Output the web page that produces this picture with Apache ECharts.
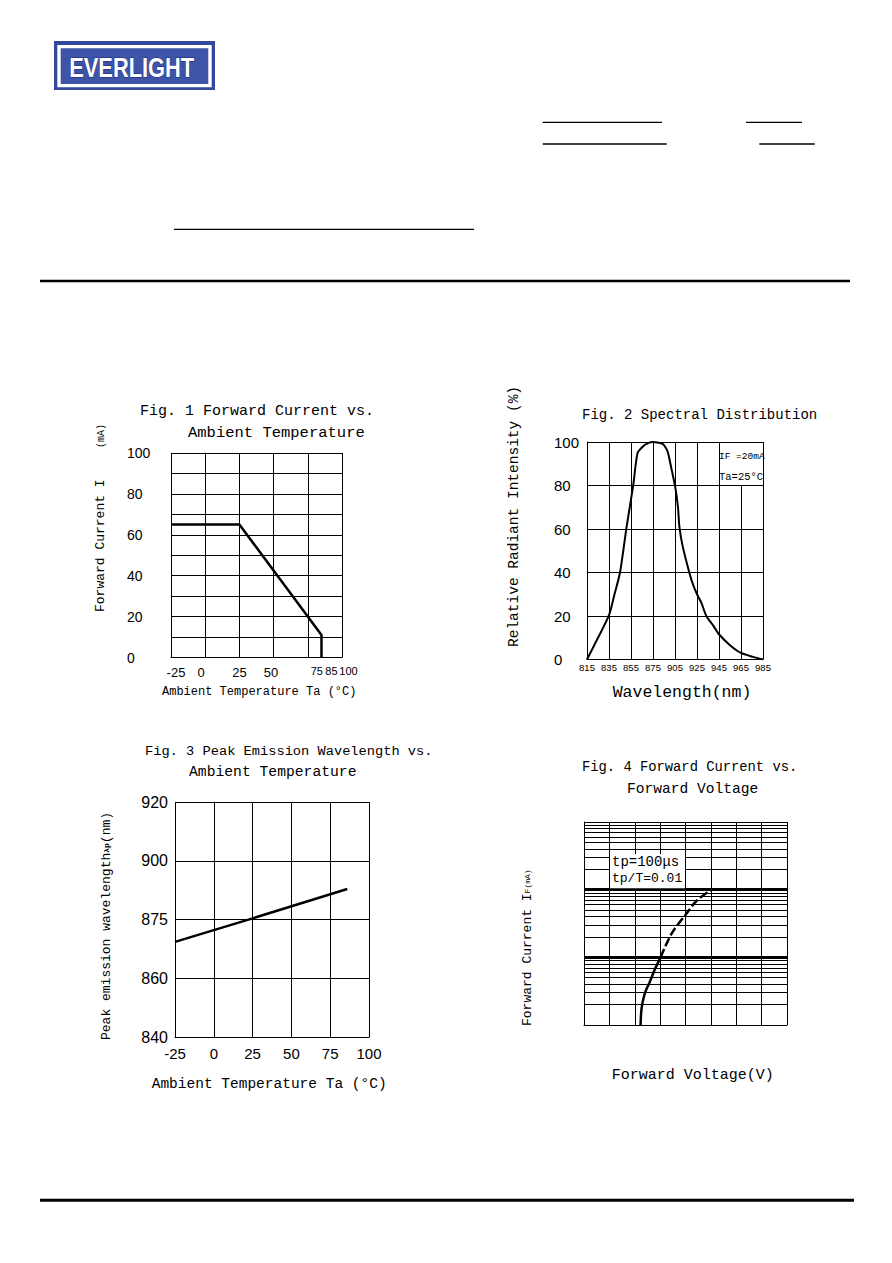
<!DOCTYPE html>
<html><head><meta charset="utf-8">
<script src="https://cdn.jsdelivr.net/npm/echarts@6/dist/echarts.min.js"></script>
<style>html,body{margin:0;padding:0;background:#fff}#c{width:892px;height:1263px}</style>
</head><body><div id="c"></div>
<script>
// ---------- Fig. 1 Forward Current vs. Ambient Temperature ----------
const fig1XLabels = [-25, 0, 25, 50, 75, 100];
const fig1XExtraLabels = [85];
const fig1Curve = [[-25, 65], [25, 65], [85, 11], [85, 0]];

// ---------- Fig. 2 Spectral Distribution ----------
const fig2XTicks = [815, 835, 855, 875, 905, 925, 945, 965, 985];
const fig2Wave = [815, 825, 835, 840, 845, 851, 857, 861, 866, 870.5, 875, 881, 888.6, 893, 895.5, 900, 905.3, 907.7, 909, 912, 918, 921, 925, 929, 933.5, 939.5, 945, 955, 965, 976, 985];
const fig2Int  = [0,   10,  20.4, 30, 40,  61,  80,  95,  98,  99.5,  100, 99.8, 99, 97, 95, 88, 79, 70, 61, 52, 40, 35, 30, 26, 20, 15.8, 11.6, 6.6, 3, 1.2, 0];

// ---------- Fig. 3 Peak Emission Wavelength vs. Ambient Temperature ----------
const fig3YTicks = [840, 860, 875, 900, 920];
const fig3Temp = [-25, 25, 86];
const fig3Peak = [869.3, 875.5, 888];

// ---------- Fig. 4 Forward Current vs. Forward Voltage ----------
const fig4SolidV = [1.115, 1.135, 1.2, 1.3, 1.395, 1.51];
const fig4SolidI = [1, 1.77, 2.95, 4.4, 6.6, 10];
const fig4DashV = [1.51, 1.625, 1.755, 2.005, 2.215, 2.505];
const fig4DashI = [10, 15.8, 24.3, 43, 68, 100];

// piecewise position of a value on an axis with unevenly labelled, evenly spaced ticks
function tickPos(v, ticks) {
  for (let i = 0; i < ticks.length - 1; i++) {
    if (v <= ticks[i + 1] || i === ticks.length - 2) {
      return i + (v - ticks[i]) / (ticks[i + 1] - ticks[i]);
    }
  }
  return 0;
}

const MONO = '"Liberation Mono", "DejaVu Sans Mono", monospace';
const SANS = '"Liberation Sans", Arial, sans-serif';
const BLK = '#000';

function T(x, y, text, size, o) {
  o = o || {};
  const st = {
    text: text, fontFamily: o.family || MONO, fontSize: size, fill: BLK,
    textAlign: o.align || 'left', align: o.align || 'left',
    textVerticalAlign: 'middle', verticalAlign: 'middle'
  };
  if (o.rich) st.rich = o.rich;
  return { type: 'text', x: x, y: y, rotation: o.rot || 0, z: 100, silent: true, style: st };
}
function L(x1, y1, x2, y2, w) {
  return { type: 'line', z: 100, silent: true, shape: { x1, y1, x2, y2 }, style: { stroke: BLK, lineWidth: w } };
}
function R(x, y, w, h, fill, z) {
  return { type: 'rect', z: z || 100, silent: true, shape: { x, y, width: w, height: h }, style: { fill: fill } };
}

const axLine = { show: true, lineStyle: { color: BLK, width: 1 } };
const split = { show: true, lineStyle: { color: BLK, width: 1, type: 'solid' } };
function valAxis(extra) {
  return Object.assign({
    type: 'value', axisLine: axLine, axisTick: { show: false }, splitLine: split,
    minorTick: { show: false }, minorSplitLine: { show: false }
  }, extra);
}

// Fig. 1 tick labels are nudged sideways in the original (crowded 75/85/100)
const fig1Nudge = { '-25': 5, '0': -4, '25': 0, '50': -2.5, '75': 9, '85': 10, '100': 6.5 };
const fig1Rich = {};
Object.keys(fig1Nudge).forEach(function (k, i) {
  const n = fig1Nudge[k];
  const crowded = (k === '75' || k === '85' || k === '100');
  fig1Rich['n' + i] = { fontFamily: SANS, fontSize: crowded ? 11 : 13, color: BLK,
    padding: n >= 0 ? [0, 0, 0, 2 * n] : [0, -2 * n, 0, 0] };
});
const fig1Keys = Object.keys(fig1Nudge);
function fig1Fmt(v) { const i = fig1Keys.indexOf(String(v)); return i < 0 ? String(v) : '{n' + i + '|' + v + '}'; }

const minorLines = [];
[1, 10, 100].forEach(function (d) { for (let k = 2; k <= 9; k++) minorLines.push({ yAxis: k * d }); });

const chart = echarts.init(document.getElementById('c'), null, { renderer: 'svg' });
const option = {
  animation: false,
  backgroundColor: '#fff',
  grid: [
    { left: 171, top: 453, width: 171, height: 204.5, outerBoundsMode: 'none' },
    { left: 587, top: 442, width: 176, height: 217.5, outerBoundsMode: 'none' },
    { left: 175, top: 802, width: 194, height: 235, outerBoundsMode: 'none' },
    { left: 584, top: 822, width: 203, height: 203, outerBoundsMode: 'none' }
  ],
  xAxis: [
    valAxis({ gridIndex: 0, min: -25, max: 100, interval: 25,
      axisLabel: { customValues: fig1XLabels, fontFamily: SANS, fontSize: 13, color: BLK, margin: 8,
        showMinLabel: true, showMaxLabel: true, hideOverlap: false, formatter: fig1Fmt, rich: fig1Rich } }),
    valAxis({ gridIndex: 1, min: 0, max: 8, interval: 1,
      axisLabel: { formatter: function (v) { return String(fig2XTicks[Math.round(v)]); },
        showMinLabel: true, showMaxLabel: true, hideOverlap: false,
        fontFamily: SANS, fontSize: 9.5, color: BLK, margin: 3 } }),
    valAxis({ gridIndex: 2, min: -25, max: 100, interval: 25,
      axisLabel: { fontFamily: SANS, fontSize: 15, color: BLK, margin: 9, showMinLabel: true, showMaxLabel: true } }),
    valAxis({ gridIndex: 3, min: 0, max: 4, interval: 0.5, axisLabel: { show: false } }),
    // extra label-only axis for the 85 °C mark on Fig. 1
    { type: 'value', gridIndex: 0, min: -25, max: 100, interval: 25, position: 'bottom',
      axisLine: { show: false }, axisTick: { show: false }, splitLine: { show: false },
      axisLabel: { customValues: fig1XExtraLabels, fontFamily: SANS, fontSize: 13, color: BLK, margin: 8,
        showMinLabel: true, showMaxLabel: true, hideOverlap: false, formatter: fig1Fmt, rich: fig1Rich } }
  ],
  yAxis: [
    valAxis({ gridIndex: 0, min: 0, max: 100, interval: 10,
      axisLabel: { formatter: function (v) { return v % 20 === 0 ? String(v) : ''; },
        showMinLabel: true, showMaxLabel: true,
        fontFamily: SANS, fontSize: 14, color: BLK, margin: 44, align: 'left', padding: [7, 0, 0, 0] } }),
    valAxis({ gridIndex: 1, min: 0, max: 100, interval: 20,
      axisLabel: { fontFamily: SANS, fontSize: 15, color: BLK, margin: 33, align: 'left', showMinLabel: true, showMaxLabel: true } }),
    valAxis({ gridIndex: 2, min: 0, max: 4, interval: 1,
      axisLabel: { formatter: function (v) { return String(fig3YTicks[Math.round(v)]); },
        showMinLabel: true, showMaxLabel: true,
        fontFamily: SANS, fontSize: 16, color: BLK, margin: 7 } }),
    { type: 'log', logBase: 10, gridIndex: 3, min: 1, max: 1000,
      axisLine: axLine, axisTick: { show: false }, axisLabel: { show: false },
      splitLine: split, minorTick: { show: false }, minorSplitLine: { show: false } }
  ],
  series: [
    { type: 'line', xAxisIndex: 0, yAxisIndex: 0, data: fig1Curve, symbol: 'none',
      lineStyle: { color: BLK, width: 2.5 }, silent: true },
    { type: 'line', xAxisIndex: 1, yAxisIndex: 1, symbol: 'none', smooth: 0.25,
      data: fig2Wave.map(function (w, i) { return [tickPos(w, fig2XTicks), fig2Int[i]]; }),
      lineStyle: { color: BLK, width: 2 }, silent: true },
    { type: 'line', xAxisIndex: 2, yAxisIndex: 2, symbol: 'none',
      data: fig3Temp.map(function (t, i) { return [t, tickPos(fig3Peak[i], fig3YTicks)]; }),
      lineStyle: { color: BLK, width: 2.5 }, silent: true },
    { type: 'line', xAxisIndex: 3, yAxisIndex: 3, symbol: 'none', smooth: 0.3,
      data: fig4SolidV.map(function (v, i) { return [v, fig4SolidI[i]]; }),
      lineStyle: { color: BLK, width: 2.5 }, silent: true, z: 3,
      markLine: { silent: true, symbol: ['none', 'none'], label: { show: false },
        lineStyle: { color: BLK, width: 1, type: 'solid' }, emphasis: { disabled: true },
        data: minorLines } },
    { type: 'line', xAxisIndex: 3, yAxisIndex: 3, symbol: 'none', smooth: 0.3,
      data: fig4DashV.map(function (v, i) { return [v, fig4DashI[i]]; }),
      lineStyle: { color: BLK, width: 2.5, type: [9, 3] }, silent: true, z: 3,
      markLine: { silent: true, symbol: ['none', 'none'], label: { show: false },
        lineStyle: { color: BLK, width: 3, type: 'solid' }, emphasis: { disabled: true },
        data: [{ yAxis: 10 }, { yAxis: 100 }] } }
  ],
  graphic: [
    // logo
    R(54, 41, 161, 49, '#33479c', 90),
    R(57.3, 45, 154.4, 42.3, '#ffffff', 91),
    R(60.7, 48.3, 147.6, 35.7, '#3e54a8', 92),
    { type: 'text', x: 131.7, y: 67, z: 100, scaleX: 0.78, silent: true,
      style: { text: 'EVERLIGHT', fontFamily: SANS, fontWeight: 'bold', fontSize: 28,
        fill: '#ffffff', stroke: '#1c2a70', lineWidth: 0.8,
        textAlign: 'center', align: 'center', textVerticalAlign: 'middle', verticalAlign: 'middle',
        textShadowColor: '#1c2a70', textShadowOffsetX: 1.5, textShadowOffsetY: 1.5, textShadowBlur: 0 } },
    // header lines
    L(542.7, 122.3, 662, 122.3, 1.3),
    L(746, 122.3, 802, 122.3, 1.3),
    L(542.7, 144, 666.7, 144, 1.3),
    L(759.3, 144, 814.7, 144, 1.3),
    L(174, 229.3, 474, 229.3, 1.3),
    L(40, 281, 850, 281, 2.3),
    L(40, 1200.3, 854, 1200.3, 3),
    // Fig 1 texts
    T(140, 411.7, 'Fig. 1 Forward Current vs.', 15),
    T(188, 433, 'Ambient Temperature', 15.5),
    T(100.5, 612, 'Forward Current I', 13, { rot: Math.PI / 2 }),
    T(101, 436, '(mA)', 10, { rot: Math.PI / 2, align: 'center' }),
    T(162, 692, 'Ambient Temperature Ta (°C)', 12),
    // Fig 2 texts
    T(582, 415, 'Fig. 2 Spectral Distribution', 14),
    T(513.5, 647, 'Relative Radiant Intensity (%)', 14.5, { rot: Math.PI / 2 }),
    T(682, 692, 'Wavelength(nm)', 16.5, { align: 'center' }),
    R(720.5, 443, 42, 42, '#ffffff', 95),
    T(719, 456, 'IF =20mA', 9.5),
    T(719, 477, 'Ta=25°C', 10.5),
    // Fig 3 texts
    T(145, 751, 'Fig. 3 Peak Emission Wavelength vs.', 13.7),
    T(189, 771.5, 'Ambient Temperature', 14.7),
    T(106.5, 1040, '{a|Peak emission wavelength}{b|λp}{a|(nm)}', 13, { rot: Math.PI / 2,
      rich: { a: { fontFamily: MONO, fontSize: 13, fill: BLK }, b: { fontFamily: MONO, fontSize: 8, fill: BLK, fontWeight: 'bold' } } }),
    T(151.7, 1083.5, 'Ambient Temperature Ta (°C)', 14.5),
    // Fig 4 texts
    T(582, 767, 'Fig. 4 Forward Current vs.', 13.8),
    T(627, 788.5, 'Forward Voltage', 14.6),
    T(527, 1026, '{a|Forward Current I}{b|F(mA)}', 13, { rot: Math.PI / 2,
      rich: { a: { fontFamily: MONO, fontSize: 13, fill: BLK }, b: { fontFamily: MONO, fontSize: 8, fill: BLK } } }),
    T(611.7, 1075, 'Forward Voltage(V)', 15),
    R(610, 854.3, 75, 34, '#ffffff', 95),
    T(612, 861.7, 'tp=100μs', 14),
    T(612, 878.3, 'tp/T=0.01', 13)
  ]
};
chart.setOption(option);
</script>
</body></html>
